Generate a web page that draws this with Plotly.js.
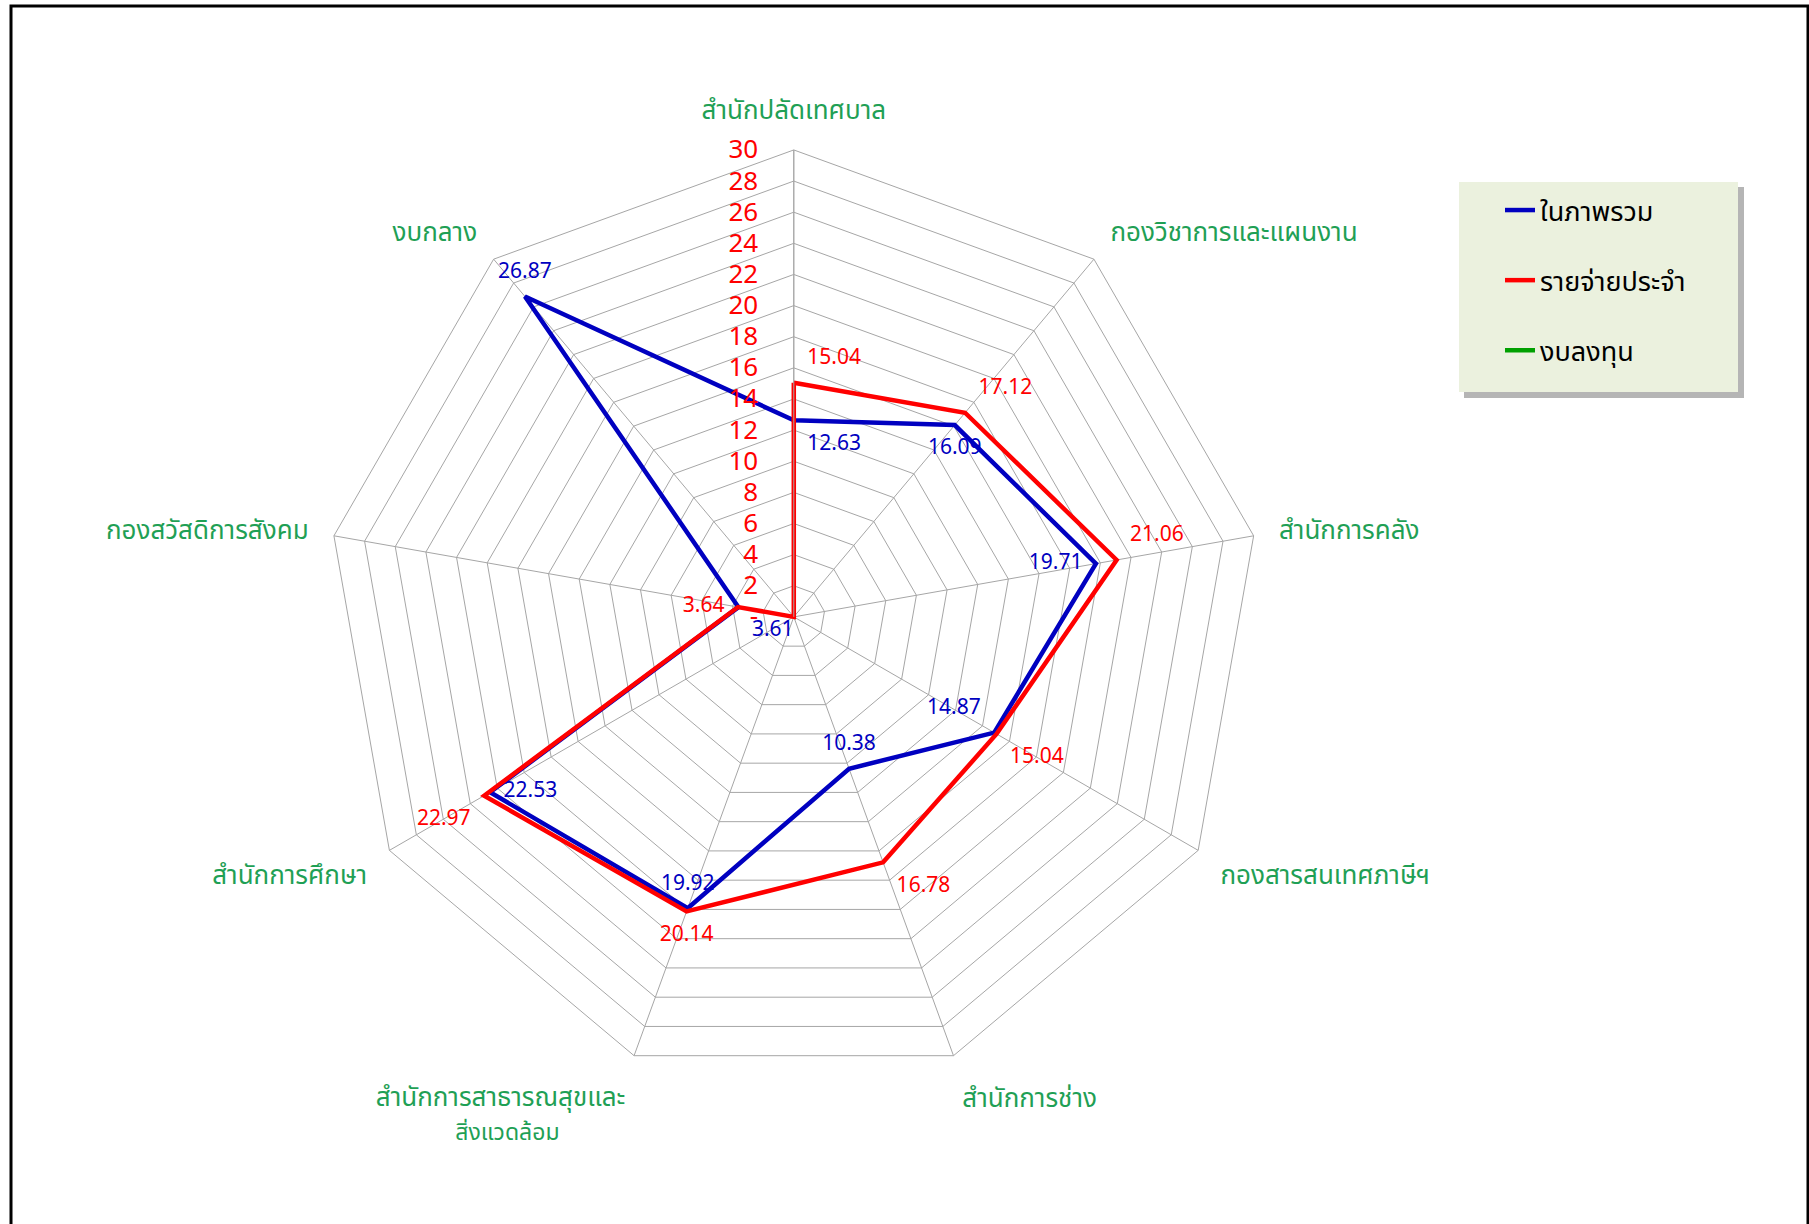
<!DOCTYPE html>
<html>
<head>
<meta charset="utf-8">
<script src="https://cdn.plot.ly/plotly-3.0.1.min.js"></script>
<style>
  html, body { margin: 0; padding: 0; background: #ffffff; }
  #chart { width: 1809px; height: 1224px; }
</style>
</head>
<body>
<div id="chart"></div>
<script>
// ---- data ----
const categories = [
  'สำนักปลัดเทศบาล',
  'กองวิชาการและแผนงาน',
  'สำนักการคลัง',
  'กองสารสนเทศภาษีฯ',
  'สำนักการช่าง',
  'สำนักการสาธารณสุขและ<br><span style="font-size:23px">สิ่งแวดล้อม\u00A0\u00A0\u00A0\u00A0\u00A0\u00A0\u00A0\u00A0\u00A0\u00A0\u00A0</span>',
  'สำนักการศึกษา',
  'กองสวัสดิการสังคม',
  'งบกลาง'
];
const seriesNames = ['ในภาพรวม', 'รายจ่ายประจำ', 'งบลงทุน'];
const overall  = [12.63, 16.09, 19.71, 14.87, 10.38, 19.92, 22.53, 3.61, 26.87];
const regular  = [15.04, 17.12, 21.06, 15.04, 16.78, 20.14, 22.97, 3.64, 0];
const capital  = [0, 0, 0, 0, 0, 0, 0, 0, 0];
const radialTickVals = [0, 2, 4, 6, 8, 10, 12, 14, 16, 18, 20, 22, 24, 26, 28, 30];
const radialTickText = ['-', '2', '4', '6', '8', '10', '12', '14', '16', '18', '20', '22', '24', '26', '28', '30'];

// ---- styling ----
const FONT = "Tahoma, 'Noto Sans Thai', 'Noto Sans', 'DejaVu Sans', sans-serif";
const BLUE = '#0000C0';
const RED = '#FF0000';
const GREEN = '#00A000';
const LABEL_GREEN = '#1FA055';
const CLEAR = 'rgba(0,0,0,0)';

const overallPos = ['bottom right', 'bottom center', 'middle left', 'top left', 'top center', 'top center', 'middle right', 'bottom right', 'top center'];
const regularPos = ['top right', 'top right', 'top right', 'bottom right', 'bottom right', 'bottom center', 'bottom left', 'middle left', 'top center'];

function closeLoop(arr) { return arr.concat([arr[0]]); }
function fmt(v) { return v === 0 ? '' : v.toFixed(2); }

const theta = closeLoop(categories);

const traces = [
  {
    type: 'scatterpolar', name: seriesNames[0], legendgroup: 'a',
    r: closeLoop(overall), theta: theta,
    mode: 'lines+markers+text',
    marker: { size: 20, color: CLEAR, line: { width: 0 } },
    text: closeLoop(overall.map(fmt)).map((t, i) => i === overall.length ? '' : t),
    textposition: closeLoop(overallPos),
    textfont: { family: FONT, size: 21, color: BLUE },
    line: { color: BLUE, width: 4.5 },
    cliponaxis: false
  },
  {
    type: 'scatterpolar', name: seriesNames[1], legendgroup: 'b',
    r: closeLoop(regular), theta: theta,
    mode: 'lines+markers+text',
    marker: { size: 20, color: CLEAR, line: { width: 0 } },
    text: closeLoop(regular.map(fmt)).map((t, i) => i === regular.length ? '' : t),
    textposition: closeLoop(regularPos),
    textfont: { family: FONT, size: 21, color: RED },
    line: { color: RED, width: 4.5 },
    cliponaxis: false
  },
  {
    type: 'scatterpolar', name: seriesNames[2], legendgroup: 'c',
    r: closeLoop(capital), theta: theta,
    mode: 'lines',
    line: { color: GREEN, width: 4.5 },
    cliponaxis: false
  }
];

const W = 1809, H = 1224;
const layout = {
  width: W, height: H,
  margin: { l: 0, r: 0, t: 0, b: 0 },
  paper_bgcolor: '#ffffff',
  font: { family: FONT, size: 20, color: '#000000' },
  showlegend: true,
  legend: {
    x: 1500 / W, y: 1 - 186 / H, xanchor: 'left', yanchor: 'top',
    bgcolor: CLEAR, borderwidth: 0,
    font: { family: FONT, size: 27, color: '#000000' },
    traceorder: 'grouped', tracegroupgap: 32,
    itemwidth: 30
  },
  polar: {
    domain: { x: [0.1806, 0.697], y: [0.1145, 0.8775] },
    bgcolor: CLEAR,
    gridshape: 'linear',
    radialaxis: {
      range: [0, 30], angle: 90, side: 'counterclockwise',
      tickvals: radialTickVals, ticktext: radialTickText,
      tickfont: { family: FONT, size: 26, color: RED },
      showline: true, linecolor: '#A6A6A6', linewidth: 1,
      gridcolor: '#A6A6A6', gridwidth: 1,
      ticks: 'outside', ticklen: 26, tickcolor: CLEAR, tickangle: 90
    },
    angularaxis: {
      direction: 'clockwise', rotation: 90,
      tickfont: { family: FONT, size: 26, color: LABEL_GREEN },
      showline: true, linecolor: '#A6A6A6', linewidth: 1,
      gridcolor: '#A6A6A6', gridwidth: 1,
      ticks: 'outside', ticklen: 20, tickcolor: CLEAR
    }
  },
  shapes: [
    // outer chart frame
    { type: 'rect', xref: 'paper', yref: 'paper', x0: 11 / W, x1: 1808 / W, y0: -0.01, y1: 1 - 6 / H,
      line: { color: '#000000', width: 3 }, fillcolor: CLEAR, layer: 'below' },
    // legend shadow
    { type: 'rect', xref: 'paper', yref: 'paper', x0: 1464 / W, x1: 1744 / W, y0: 1 - 398 / H, y1: 1 - 187 / H,
      line: { width: 0 }, fillcolor: 'rgba(120,120,120,0.55)', layer: 'below' },
    // legend box
    { type: 'rect', xref: 'paper', yref: 'paper', x0: 1459 / W, x1: 1738 / W, y0: 1 - 392 / H, y1: 1 - 182 / H,
      line: { width: 0 }, fillcolor: '#EBF1DE', layer: 'below' }
  ]
};

Plotly.newPlot('chart', traces, layout, { displayModeBar: false, staticPlot: true });
</script>
</body>
</html>
